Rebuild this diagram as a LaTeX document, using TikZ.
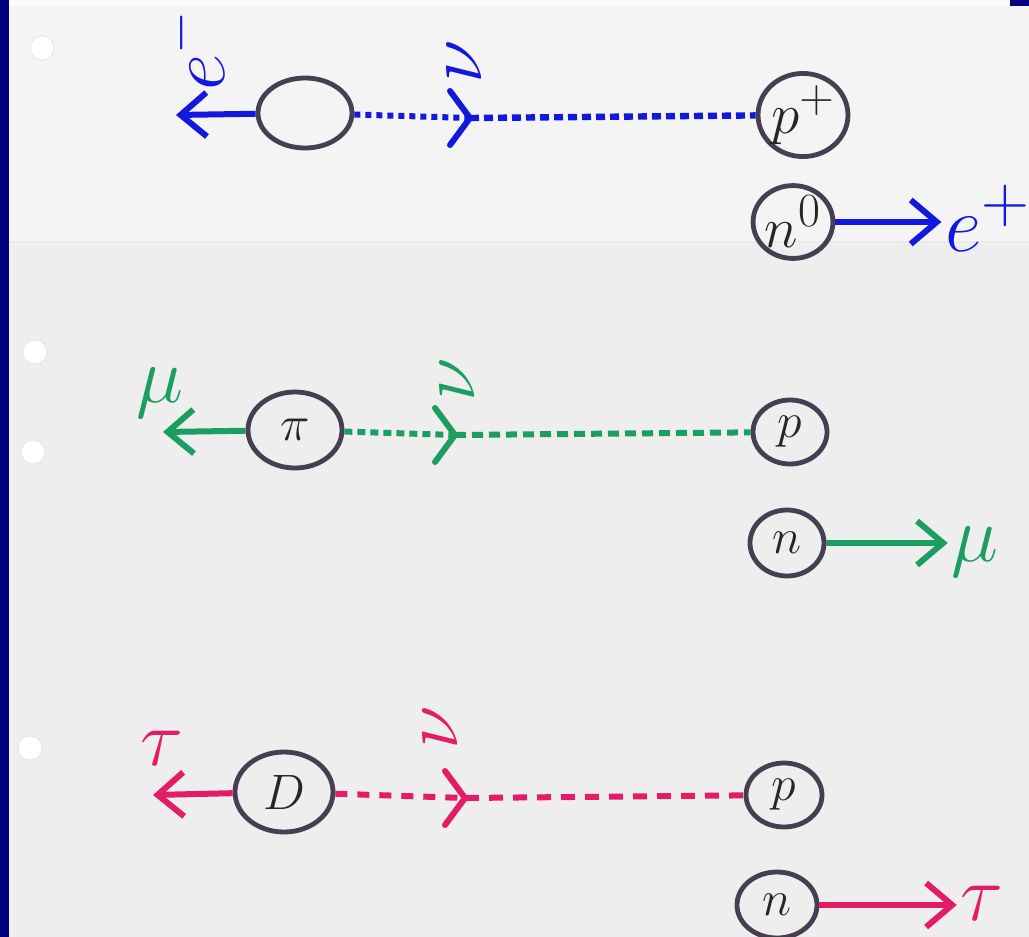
\documentclass[tikz,border=0pt]{standalone}
\usetikzlibrary{shapes.geometric,arrows.meta}
\definecolor{navy}{RGB}{0,0,128}
\definecolor{paper}{RGB}{238,238,238}
\definecolor{papertop}{RGB}{244,244,244}
\definecolor{ink}{RGB}{72,62,82}
\definecolor{pblue}{RGB}{18,24,222}
\definecolor{pgreen}{RGB}{28,158,98}
\definecolor{pmag}{RGB}{226,28,102}
\tikzset{
  ball/.style={ellipse, draw=ink, line width=2.4pt, inner sep=0pt, text=black!85, font=\Huge},
  tip/.style={-{Straight Barb[length=13pt,width=22pt]}, line width=3pt},
  lbl/.style={inner sep=1pt, scale=1.6, font=\Huge},
  chev/.style={line width=3pt, line cap=round, line join=round},
}
\begin{document}
\begin{tikzpicture}[x=0.5pt,y=-0.5pt]
\useasboundingbox (0,0) rectangle (1029,937);
% paper and binder edge
\fill[navy] (0,0) rectangle (1029,937);
\fill[paper] (9,6) rectangle (1029,937);
\fill[papertop] (9,6) rectangle (1029,242);
\fill[white!97!gray] (9,0) rectangle (1010,6);
\draw[black!8, line width=1pt] (9,242) -- (1029,242);
\foreach \hx/\hy in {42/48, 35/352, 33/452, 30/748}
  \fill[white, draw=black!10] (\hx,\hy) circle (12);

% ---------- electron row ----------
\node[ball, minimum width=47pt, minimum height=35pt] (E1) at (305,113) {};
\node[ball, minimum width=35pt, minimum height=32pt] (P1) at (803,115) {\scalebox{1.15}{$p^{+}$}};
\node[ball, minimum width=36pt, minimum height=30pt] (N1) at (793,222) {\scalebox{1.15}{$n^{0}$}};
\coordinate (L1) at (176,115);
\coordinate (C1) at (470,118);
\node[lbl, text=pblue, rotate=90] (em) at (194,50) {$e^{\scriptscriptstyle -}$};
\node[lbl, text=pblue, rotate=90] (nu1) at (464,62) {$\nu$};
\node[lbl, text=pblue] (ep) at (988,218) {$e^{+}$};
\draw[tip, pblue] (E1) -- (L1);
\draw[pblue, line width=3pt, dash pattern=on 3pt off 2.5pt] (E1) -- (C1);
\draw[pblue, line width=3.2pt, dash pattern=on 4.5pt off 2.5pt] (C1) -- (P1);
\draw[chev, pblue] (C1) ++(-20,-27) -- (C1) -- ++(-20,27);
\draw[tip, pblue] (N1) -- (N1 -| ep.west);

% ---------- muon row ----------
\node[ball, minimum width=47pt, minimum height=38pt] (Pi) at (295,430) {$\pi$};
\node[ball, minimum width=37pt, minimum height=32pt] (P2) at (790,432) {$p$};
\node[ball, minimum width=37pt, minimum height=33pt] (N2) at (787,543) {$n$};
\coordinate (L2) at (163,432);
\coordinate (C2) at (455,435);
\node[lbl, text=pgreen] (mu1) at (160,393) {$\mu$};
\node[lbl, text=pgreen, rotate=90] (nu2) at (457,380) {$\nu$};
\node[lbl, text=pgreen] (mu2) at (975,552) {$\mu$};
\draw[tip, pgreen] (Pi) -- (L2);
\draw[pgreen, line width=3pt, dash pattern=on 4pt off 2.5pt] (Pi) -- (C2);
\draw[pgreen, line width=3pt, dash pattern=on 5.5pt off 3pt] (C2) -- (P2);
\draw[chev, pgreen] (C2) ++(-20,-27) -- (C2) -- ++(-20,27);
\draw[tip, pgreen] (N2) -- (N2 -| mu2.west);

% ---------- tau row ----------
\node[ball, minimum width=49pt, minimum height=40pt] (D) at (284,792) {$D$};
\node[ball, minimum width=38pt, minimum height=32pt] (P3) at (784,795) {$p$};
\node[ball, minimum width=40pt, minimum height=33pt] (N3) at (777,905) {$n$};
\coordinate (L3) at (153,795);
\coordinate (C3) at (465,798);
\node[lbl, text=pmag] (tau1) at (162,748) {$\tau$};
\node[lbl, text=pmag, rotate=90] (nu3) at (440,728) {$\nu$};
\node[lbl, text=pmag] (tau2) at (982,903) {$\tau$};
\draw[tip, pmag] (D) -- (L3);
\draw[pmag, line width=3pt, dash pattern=on 6pt off 5pt] (D) -- (C3);
\draw[pmag, line width=3pt, dash pattern=on 7pt off 5pt] (C3) -- (P3);
\draw[chev, pmag] (C3) ++(-20,-27) -- (C3) -- ++(-20,27);
\draw[tip, pmag] (N3) -- (N3 -| tau2.west);
\end{tikzpicture}
\end{document}
